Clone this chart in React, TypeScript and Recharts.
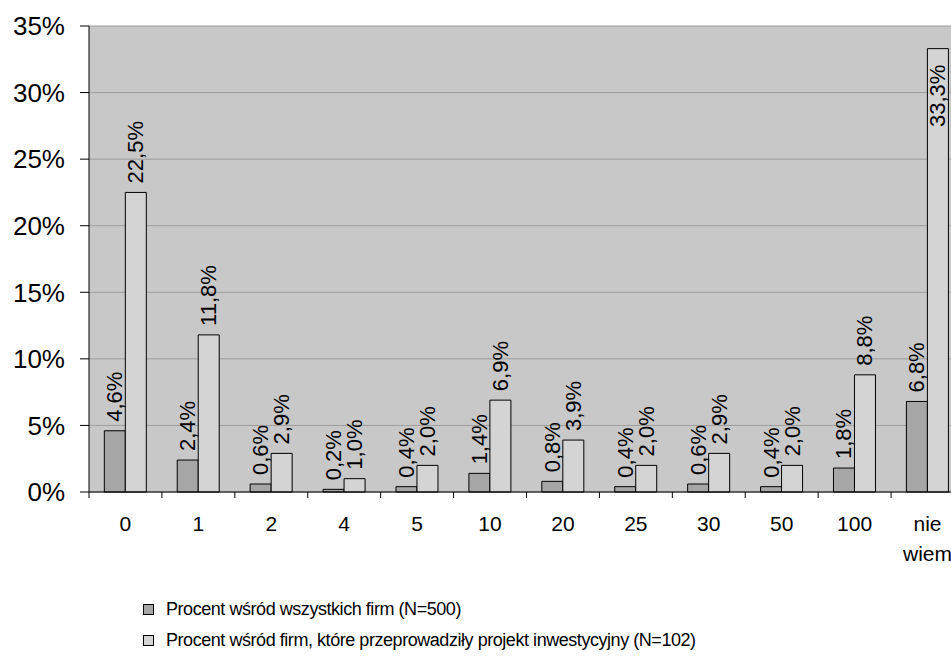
import React from 'react';
import {
    BarChart,
    Bar,
    XAxis,
    YAxis,
    CartesianGrid,
    Legend,
    LabelList
} from 'recharts';

// kategorie i wartości
const categories = ['0', '1', '2', '4', '5', '10', '20', '25', '30', '50', '100', 'nie wiem'];
const allFirms = [4.6, 2.4, 0.6, 0.2, 0.4, 1.4, 0.8, 0.4, 0.6, 0.4, 1.8, 6.8];
const investFirms = [22.5, 11.8, 2.9, 1.0, 2.0, 6.9, 3.9, 2.0, 2.9, 2.0, 8.8, 33.3];
const yTicks = [0, 5, 10, 15, 20, 25, 30, 35];

const seriesNames = [
    'Procent wśród wszystkich firm (N=500)',
    'Procent wśród firm, które przeprowadziły projekt inwestycyjny (N=102)'
];
const seriesColors = ['#A6A6A6', '#D4D4D4'];

const data = categories.map((name, i) => ({
    name,
    all: allFirms[i],
    invest: investFirms[i]
}));

const CHART_W = 975;
const CHART_H = 662;
const Y_AXIS_W = 89;
const MARGIN = { top: 26, right: 11, left: 0, bottom: 6 };
const BAND = (CHART_W - MARGIN.left - MARGIN.right - Y_AXIS_W) / categories.length;
const FONT = '"Liberation Sans", Arial, sans-serif';

const fmt = (v: number) => `${Number(v).toFixed(1).replace('.', ',')}%`;

const renderLabel = (props: any) => {
    const { x, y, width, value } = props;
    const cx = Number(x) + Number(width) / 2;
    // etykieta nie mieści się nad słupkiem -> wewnątrz
    const inside = Number(value) > 28;
    const ty = inside ? Number(y) + 16 : Number(y) - 9;
    return (
        <text
            x={cx}
            y={ty}
            transform={`rotate(-90, ${cx}, ${ty})`}
            textAnchor={inside ? 'end' : 'start'}
            dominantBaseline="central"
            fontSize={22}
            fontFamily={FONT}
            fill="#000"
        >
            {fmt(value)}
        </text>
    );
};

const CategoryTick = (props: any) => {
    const { x, y, payload } = props;
    const lines = String(payload.value).split(' ');
    const left = x - BAND / 2;
    return (
        <g>
            <line x1={left} x2={left} y1={y} y2={y + 6} stroke="#000" />
            <text x={x} y={y + 39} textAnchor="middle" fontSize={21} fontFamily={FONT} fill="#000">
                {lines.map((l, i) => (
                    <tspan key={i} x={x} dy={i === 0 ? 0 : 30}>{l}</tspan>
                ))}
            </text>
        </g>
    );
};

const LegendContent = () => (
    <div style={{ fontFamily: FONT, fontSize: 18, letterSpacing: -0.45, color: '#000' }}>
        {seriesNames.map((n, i) => (
            <div key={n} style={{ height: 31, display: 'flex', alignItems: 'center', whiteSpace: 'nowrap' }}>
                <span
                    style={{
                        display: 'inline-block',
                        width: 9,
                        height: 9,
                        background: seriesColors[i],
                        border: '1px solid #000',
                        marginRight: 12
                    }}
                />
                {n}
            </div>
        ))}
    </div>
);

export default function App() {
    return (
        <div style={{ width: 951, height: 662, overflow: 'hidden', position: 'relative', background: '#fff' }}>
            <style>{'body{margin:0;overflow:hidden}'}</style>
            <BarChart
                width={CHART_W}
                height={CHART_H}
                data={data}
                margin={MARGIN}
                barGap={0}
                barCategoryGap="21%"
                style={{ fontFamily: FONT }}
            >
                <CartesianGrid vertical={false} fill="#C8C8C8" stroke="#9C9C9C" />
                <XAxis
                    dataKey="name"
                    interval={0}
                    height={102}
                    tickSize={0}
                    tickMargin={0}
                    tickLine={false}
                    axisLine={{ stroke: '#000' }}
                    tick={<CategoryTick />}
                />
                <YAxis
                    width={Y_AXIS_W}
                    domain={[0, 35]}
                    ticks={yTicks}
                    interval={0}
                    tickFormatter={(v: number) => `${v}%`}
                    tick={{ fontSize: 26, fill: '#000', fontFamily: FONT }}
                    tickSize={9}
                    tickMargin={15}
                    axisLine={{ stroke: '#000' }}
                    tickLine={{ stroke: '#000' }}
                />
                <Legend
                    verticalAlign="bottom"
                    content={<LegendContent />}
                    wrapperStyle={{ left: 143, width: 760 }}
                />
                <Bar dataKey="all" name={seriesNames[0]} fill={seriesColors[0]} stroke="#000" isAnimationActive={false}>
                    <LabelList dataKey="all" content={renderLabel} />
                </Bar>
                <Bar dataKey="invest" name={seriesNames[1]} fill={seriesColors[1]} stroke="#000" isAnimationActive={false}>
                    <LabelList dataKey="invest" content={renderLabel} />
                </Bar>
            </BarChart>
        </div>
    );
}
